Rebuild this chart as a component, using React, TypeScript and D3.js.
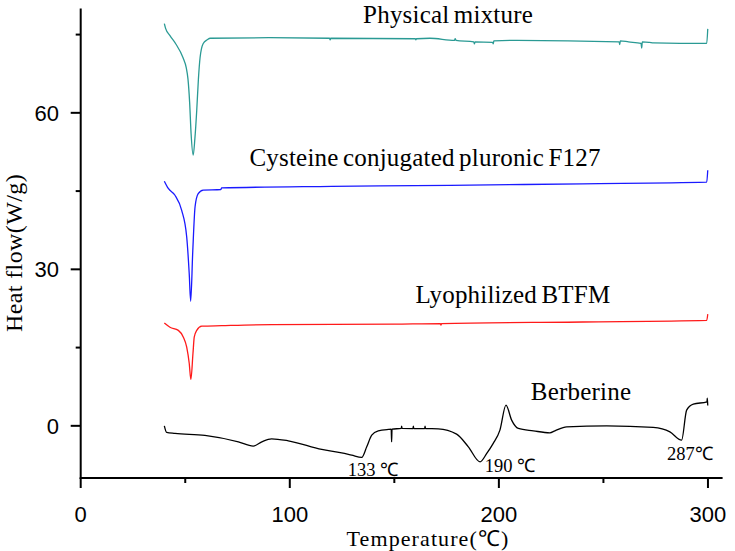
import * as d3 from "d3";
import React from "react";

// DSC traces, [temperature °C, heat flow W/g]
const physicalMixture: [number, number][] = [
  [40, 77.1], [40.6, 76.2], [42.7, 74.8], [45.5, 73.2], [48.9, 70.6], [50.5, 68.6],
  [51.3, 66.5], [52.1, 62], [52.8, 56], [53.8, 51.9], [54.6, 55], [55.5, 60.5],
  [56.3, 66.5], [57.1, 70.6], [58.6, 73.3], [60.5, 74.0], [62, 74.3], [90, 74.4],
  [119, 74.3], [119.3, 74.0], [119.6, 74.3], [160, 74.2], [160.3, 74.0], [160.6, 74.2],
  [167, 74.3], [178.8, 73.9], [179.1, 74.2], [179.5, 73.9], [188, 73.6], [188.3, 73.2],
  [188.6, 73.6], [197, 73.5], [197.3, 73.2], [197.6, 73.8], [208.6, 73.9], [257.5, 73.6],
  [257.8, 73.1], [258.1, 73.8], [262, 73.6], [268, 73.3], [268.3, 72.4], [268.6, 73.6],
  [272, 73.5], [274, 73.4], [299.4, 73.3], [299.9, 76.1],
];

const cysteineF127: [number, number][] = [
  [40, 46.9], [41.9, 45.5], [45.1, 44.2], [48.3, 41.3], [50.7, 36.2], [51.9, 29.2],
  [52.6, 23.9], [53.6, 33.5], [54.7, 42.0], [56.2, 44.5], [58.6, 45.2], [67, 45.3],
  [67.4, 45.6], [120, 45.9], [176.6, 46.1], [240, 46.4], [299.4, 46.7], [299.9, 49.0],
];

const lyophilizedBTFM: [number, number][] = [
  [40, 19.7], [42.7, 18.9], [46.7, 18.3], [49.1, 17.0], [50.7, 15.1], [51.9, 12.0],
  [52.7, 8.9], [53.7, 13.9], [54.3, 17.0], [55.5, 18.3], [57.9, 19.1], [67.4, 19.2],
  [91.3, 19.4], [150, 19.5], [172, 19.6], [172.3, 19.3], [172.6, 19.6], [240, 19.9],
  [299.4, 20.2], [299.9, 21.4],
];

const berberine: [number, number][] = [
  [40, 0], [41.1, -1.26], [45.1, -1.46], [59.4, -1.84], [75.4, -3.07], [82.5, -3.89],
  [86.6, -3.07], [91.3, -2.49], [99.3, -2.87], [115.3, -4.52], [124.8, -5.17],
  [129.6, -5.61], [134.4, -6.05], [136.8, -4.02], [139.2, -1.78], [142.3, -0.96],
  [147.1, -0.69], [148.5, -0.65], [148.7, -3.07], [148.9, -0.62], [153.3, -0.5],
  [153.5, -0.05], [153.7, -0.5], [158.9, -0.52], [159.1, -0.07], [159.3, -0.52],
  [164.5, -0.53], [164.7, -0.08], [164.9, -0.53], [171, -0.57], [179.8, -1.6],
  [185.4, -4.02], [191, -6.9], [194.2, -5.29], [197.3, -3.37], [200.5, -0.82],
  [203.4, 3.97], [206.1, 1.09], [209.3, -0.5], [216.5, -0.96], [224.4, -1.34],
  [226.8, -0.96], [232.4, -0.19], [251.6, 0], [273.8, -0.31], [281.8, -1.15],
  [287.4, -2.74], [289.8, 3.0], [293, 4.16], [299.5, 4.6], [299.7, 5.3], [299.9, 3.9],
];

const seriesColors = ["#2a9a94", "#1a1aff", "#ff1a1a", "#000000"];
const seriesData = [physicalMixture, cysteineF127, lyophilizedBTFM, berberine];

// label anchors in data units (centre x, baseline y)
const seriesLabels = [
  { text: "Physical mixture", x: 175.7, y: 77.2 },
  { text: "Cysteine conjugated pluronic F127", x: 164.7, y: 49.8 },
  { text: "Lyophilized BTFM", x: 206.7, y: 23.6 },
  { text: "Berberine", x: 239.3, y: 4.95 },
];

const peakLabels = [
  { text: "133 ℃", x: 139.8, y: -9.6 },
  { text: "190 ℃", x: 205.3, y: -8.85 },
  { text: "287℃", x: 291.4, y: -6.56 },
];

const xMajor = [0, 100, 200, 300];
const xMinor = [50, 150, 250];
const yMajor = [0, 30, 60];
const yMinor = [15, 45, 75];

const serif = "'Liberation Serif', 'Times New Roman', serif";
const sans = "'Liberation Sans', Arial, sans-serif";

export default function App() {
  const width = 735;
  const height = 551;

  const x = d3.scaleLinear().domain([0, 307]).range([80.7, 722.6]);
  const y = d3.scaleLinear().domain([-10, 80]).range([478, 8.5]);

  const line = d3
    .line<[number, number]>()
    .x((d) => x(d[0]))
    .y((d) => y(d[1]))
    .curve(d3.curveMonotoneX);

  const x0 = x.range()[0];
  const yBottom = y.range()[0];

  return (
    <div style={{ position: "absolute", left: 0, top: 0 }}>
      <svg width={width} height={height} style={{ display: "block", background: "#fff" }}>
        {seriesData.map((s, i) => (
          <path
            key={i}
            d={line(s) || ""}
            fill="none"
            stroke={seriesColors[i]}
            strokeWidth={1.3}
            strokeLinejoin="round"
          />
        ))}

        {/* axes */}
        <line x1={x0} x2={x0} y1={y.range()[1]} y2={yBottom + 1} stroke="#000" strokeWidth={2} />
        <line x1={x0 - 1} x2={x.range()[1]} y1={yBottom} y2={yBottom} stroke="#000" strokeWidth={2} />

        {yMajor.map((v) => (
          <g key={"ym" + v}>
            <line x1={x0 - 10} x2={x0} y1={y(v)} y2={y(v)} stroke="#000" strokeWidth={2} />
            <text x={59} y={y(v)} dy="0.36em" textAnchor="end" fontFamily={sans} fontSize={22}>
              {v}
            </text>
          </g>
        ))}
        {yMinor.map((v) => (
          <line key={"yn" + v} x1={x0 - 5} x2={x0} y1={y(v)} y2={y(v)} stroke="#000" strokeWidth={2} />
        ))}

        {xMajor.map((v) => (
          <g key={"xm" + v}>
            <line x1={x(v)} x2={x(v)} y1={yBottom} y2={yBottom + 10} stroke="#000" strokeWidth={2} />
            <text x={x(v)} y={522} textAnchor="middle" fontFamily={sans} fontSize={22}>
              {v}
            </text>
          </g>
        ))}
        {xMinor.map((v) => (
          <line key={"xn" + v} x1={x(v)} x2={x(v)} y1={yBottom} y2={yBottom + 5} stroke="#000" strokeWidth={2} />
        ))}

        {/* axis titles */}
        <text x={428} y={546} textAnchor="middle" fontFamily={serif} fontSize={22} letterSpacing={1.1}>
          Temperature(℃)
        </text>
        <text
          transform="translate(22,253) rotate(-90)"
          textAnchor="middle"
          fontFamily={serif}
          fontSize={24}
          letterSpacing={0.4}
        >
          Heat flow(W/g)
        </text>

        {seriesLabels.map((l) => (
          <text
            key={l.text}
            x={x(l.x)}
            y={y(l.y)}
            textAnchor="middle"
            fontFamily={serif}
            fontSize={25}
            wordSpacing={-2}
            letterSpacing={0.2}
          >
            {l.text}
          </text>
        ))}

        {peakLabels.map((l) => (
          <text
            key={l.text}
            x={x(l.x)}
            y={y(l.y)}
            textAnchor="middle"
            fontFamily={serif}
            fontSize={18.5}
          >
            {l.text}
          </text>
        ))}
      </svg>
    </div>
  );
}
